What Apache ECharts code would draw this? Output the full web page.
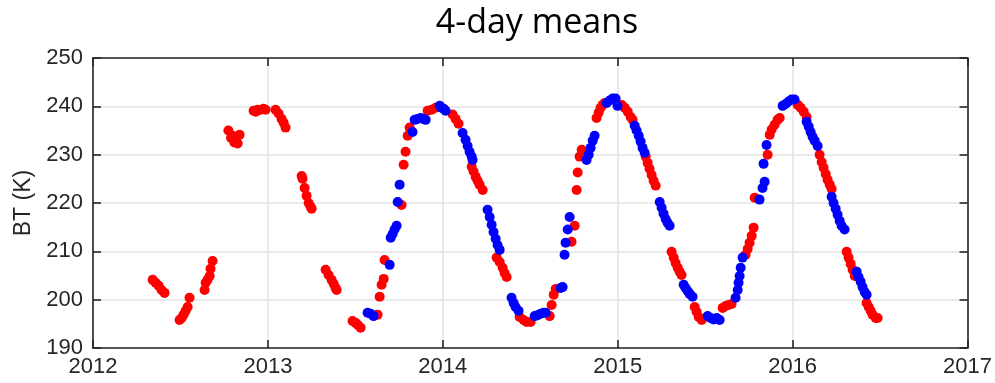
<!DOCTYPE html>
<html>
<head>
<meta charset="utf-8">
<script src="https://cdn.jsdelivr.net/npm/echarts@6/dist/echarts.min.js"></script>
<style>
  html, body { margin: 0; padding: 0; background: #ffffff; }
  #chart { width: 995px; height: 383px; }
</style>
</head>
<body>
<div id="chart"></div>
<script>
// Brightness temperature, 4-day means (decimal year, kelvin)
const redYear = [
  2012.341, 2012.358, 2012.375, 2012.392, 2012.409,
  2012.495, 2012.507, 2012.518, 2012.530, 2012.541, 2012.552,
  2012.638, 2012.644, 2012.655, 2012.667, 2012.672, 2012.684,
  2012.774, 2012.789, 2012.798, 2012.808, 2012.821, 2012.827, 2012.838,
  2012.918, 2012.930, 2012.941, 2012.958, 2012.975, 2012.987,
  2013.044, 2013.061, 2013.078, 2013.090, 2013.101,
  2013.193, 2013.198, 2013.210, 2013.221, 2013.233, 2013.244, 2013.250,
  2013.330, 2013.347, 2013.364, 2013.376, 2013.387, 2013.393,
  2013.484, 2013.501, 2013.513, 2013.530,
  2013.627, 2013.639, 2013.650, 2013.662, 2013.667,
  2013.764, 2013.776, 2013.787, 2013.799, 2013.810,
  2013.913, 2013.936, 2013.959,
  2014.056, 2014.073, 2014.090,
  2014.165, 2014.176, 2014.188, 2014.199, 2014.210, 2014.228,
  2014.308, 2014.325, 2014.342, 2014.353, 2014.365,
  2014.439, 2014.462, 2014.479, 2014.502,
  2014.611, 2014.622, 2014.634, 2014.645,
  2014.736, 2014.754, 2014.765, 2014.771, 2014.782, 2014.794,
  2014.879, 2014.891, 2014.902, 2014.914, 2014.925,
  2015.022, 2015.040, 2015.057, 2015.074, 2015.085,
  2015.160, 2015.171, 2015.182, 2015.194, 2015.205, 2015.217,
  2015.308, 2015.320, 2015.331, 2015.343, 2015.354, 2015.365,
  2015.440, 2015.451, 2015.463, 2015.480,
  2015.600, 2015.617, 2015.634, 2015.651,
  2015.731, 2015.743, 2015.754, 2015.766, 2015.777, 2015.783,
  2015.857, 2015.869, 2015.880, 2015.897, 2015.914, 2015.926,
  2016.029, 2016.046, 2016.063, 2016.080,
  2016.154, 2016.166, 2016.177, 2016.189, 2016.200, 2016.212, 2016.223,
  2016.309, 2016.320, 2016.332, 2016.343, 2016.355,
  2016.423, 2016.435, 2016.446, 2016.457, 2016.475, 2016.486
];
const redBT = [
  204.1, 203.5, 202.9, 202.0, 201.4,
  195.8, 196.2, 196.9, 197.7, 198.5, 200.4,
  202.0, 203.5, 204.1, 204.9, 206.4, 208.0,
  235.0, 233.5, 233.9, 232.5, 232.5, 232.3, 234.1,
  239.1, 238.9, 239.3, 239.3, 239.5, 239.3,
  239.3, 238.5, 237.4, 236.6, 235.6,
  225.6, 225.0, 223.1, 221.5, 220.0, 219.2, 218.8,
  206.2, 205.1, 204.1, 203.3, 202.4, 202.0,
  195.6, 195.2, 194.8, 194.2,
  196.9, 200.6, 203.1, 204.3, 208.2,
  219.6, 227.9, 230.6, 233.9, 235.6,
  239.1, 239.3, 239.7,
  238.3, 237.4, 236.4,
  227.5, 226.5, 225.4, 224.6, 223.8, 222.7,
  208.7, 207.8, 206.6, 205.5, 204.7,
  196.4, 195.8, 195.4, 195.4,
  196.6, 198.9, 201.0, 202.2,
  212.0, 215.3, 222.7, 226.3, 229.6, 231.0,
  237.6, 238.7, 239.7, 240.3, 240.7,
  240.3, 239.7, 238.9, 237.8, 237.2,
  229.6, 228.3, 227.1, 225.8, 224.6, 223.6,
  209.9, 208.7, 207.6, 206.6, 205.8, 205.1,
  198.5, 197.5, 196.4, 195.8,
  198.3, 198.7, 198.9, 199.1,
  209.3, 210.5, 211.8, 213.2, 214.9, 221.1,
  230.0, 234.1, 235.2, 236.2, 237.2, 237.6,
  240.3, 239.7, 238.9, 237.8,
  230.0, 228.5, 227.3, 226.0, 224.8, 223.8, 222.9,
  209.9, 208.7, 207.4, 206.2, 204.9,
  199.3, 198.5, 197.7, 196.9, 196.2, 196.2
];
const blueYear = [
  2013.570, 2013.587, 2013.604,
  2013.696, 2013.702, 2013.713, 2013.724, 2013.736, 2013.742, 2013.753,
  2013.827, 2013.839, 2013.856, 2013.873, 2013.890, 2013.902,
  2013.982, 2013.993, 2014.005, 2014.016,
  2014.113, 2014.130, 2014.142, 2014.153, 2014.165, 2014.170,
  2014.256, 2014.268, 2014.279, 2014.290, 2014.302, 2014.313, 2014.325,
  2014.393, 2014.405, 2014.416, 2014.433,
  2014.525, 2014.542, 2014.559, 2014.576, 2014.588,
  2014.674, 2014.685, 2014.696, 2014.702, 2014.714, 2014.725,
  2014.822, 2014.834, 2014.845, 2014.857, 2014.868,
  2014.937, 2014.954, 2014.971, 2014.988, 2014.999,
  2015.097, 2015.108, 2015.120, 2015.131, 2015.142, 2015.154,
  2015.240, 2015.251, 2015.262, 2015.274, 2015.285, 2015.297,
  2015.377, 2015.388, 2015.400, 2015.411, 2015.428,
  2015.514, 2015.531, 2015.548, 2015.566, 2015.583,
  2015.674, 2015.686, 2015.691, 2015.697, 2015.703, 2015.714,
  2015.811, 2015.828, 2015.840, 2015.834, 2015.851,
  2015.943, 2015.960, 2015.977, 2015.994, 2016.011,
  2016.080, 2016.092, 2016.103, 2016.114, 2016.126, 2016.143,
  2016.223, 2016.234, 2016.246, 2016.257, 2016.269, 2016.280, 2016.297,
  2016.366, 2016.377, 2016.389, 2016.400, 2016.412, 2016.423
];
const blueBT = [
  197.3, 197.1, 196.6,
  207.2, 212.8, 213.6, 214.5, 215.3, 220.2, 223.8,
  234.7, 237.2, 237.4, 237.6, 237.4, 237.2,
  240.1, 239.7, 239.5, 239.1,
  234.5, 233.1, 231.8, 230.6, 229.6, 228.9,
  218.6, 217.1, 215.5, 214.0, 212.6, 211.3, 210.3,
  200.4, 199.3, 198.5, 197.7,
  196.6, 196.8, 197.1, 197.3, 197.3,
  202.4, 202.6, 209.3, 211.8, 214.5, 217.1,
  228.9, 230.0, 231.4, 232.9, 233.9,
  240.7, 241.2, 241.6, 241.6, 240.1,
  236.0, 235.0, 233.9, 232.7, 231.4, 230.4,
  220.2, 219.0, 217.8, 216.7, 215.9, 215.3,
  203.1, 202.4, 201.8, 201.2, 200.6,
  196.6, 196.2, 195.9, 196.2, 195.8,
  200.4, 202.0, 203.5, 204.9, 206.6, 208.7,
  220.7, 223.1, 224.4, 228.1, 232.0,
  240.1, 240.5, 241.0, 241.4, 241.4,
  236.8, 235.8, 234.7, 233.7, 232.9, 231.8,
  221.3, 220.0, 218.8, 217.6, 216.3, 215.3, 214.5,
  205.8, 204.7, 203.7, 202.6, 201.6, 201.0
];
const yearTicks = [2012, 2013, 2014, 2015, 2016, 2017];
const btTicks = [190, 200, 210, 220, 230, 240, 250];

const zip = (xs, ys) => xs.map((x, i) => [x, ys[i]]);

const axisInk = '#262626';
const gridInk = '#e3e3e3';
const labelFont = '"Liberation Sans", Arial, Helvetica, sans-serif';
const tickFontSize = 22;

const chart = echarts.init(document.getElementById('chart'), null, { renderer: 'canvas' });

const boxAxis = (pos, showSplit) => ({
  position: pos,
  axisLine: { show: true, onZero: false, lineStyle: { color: axisInk, width: 1.6 } },
  axisTick: { show: true, inside: true, length: 8, lineStyle: { color: axisInk, width: 1.6 } },
  splitLine: { show: showSplit, lineStyle: { color: gridInk, width: 1.5 } },
  axisLabel: { show: false }
});

const tickLabel = (margin) => ({
  show: true, color: axisInk, fontSize: tickFontSize, fontFamily: labelFont, margin: margin,
  formatter: (v) => String(v)
});

chart.setOption({
  animation: false,
  backgroundColor: '#ffffff',
  title: {
    text: '4-day means',
    left: 532, top: 1, textAlign: 'center',
    textStyle: { fontFamily: '"Open Sans", "Noto Sans", sans-serif', fontWeight: 'normal', fontSize: 34, color: '#000000' }
  },
  grid: { left: 93, right: 27, top: 58, bottom: 35, containLabel: false },
  xAxis: [
    Object.assign({ type: 'value', min: yearTicks[0], max: yearTicks[yearTicks.length - 1], interval: 1 },
      boxAxis('bottom', true), { axisLabel: tickLabel(8) }),
    Object.assign({ type: 'value', min: yearTicks[0], max: yearTicks[yearTicks.length - 1], interval: 1 },
      boxAxis('top', false))
  ],
  yAxis: [
    Object.assign({ type: 'value', min: btTicks[0], max: btTicks[btTicks.length - 1], interval: 10,
      name: 'BT (K)', nameLocation: 'middle', nameGap: 58, nameRotate: 90,
      nameTextStyle: { color: axisInk, fontSize: 23, fontFamily: labelFont } },
      boxAxis('left', true), { axisLabel: tickLabel(10) }),
    Object.assign({ type: 'value', min: btTicks[0], max: btTicks[btTicks.length - 1], interval: 10 },
      boxAxis('right', false))
  ],
  series: [
    {
      name: 'red', type: 'scatter', xAxisIndex: 0, yAxisIndex: 0,
      data: zip(redYear, redBT), symbol: 'circle', symbolSize: 10,
      itemStyle: { color: '#ff0000', opacity: 1 }, silent: true
    },
    {
      name: 'blue', type: 'scatter', xAxisIndex: 0, yAxisIndex: 0,
      data: zip(blueYear, blueBT), symbol: 'circle', symbolSize: 10,
      itemStyle: { color: '#0000ff', opacity: 1 }, silent: true
    }
  ]
});
</script>
</body>
</html>
